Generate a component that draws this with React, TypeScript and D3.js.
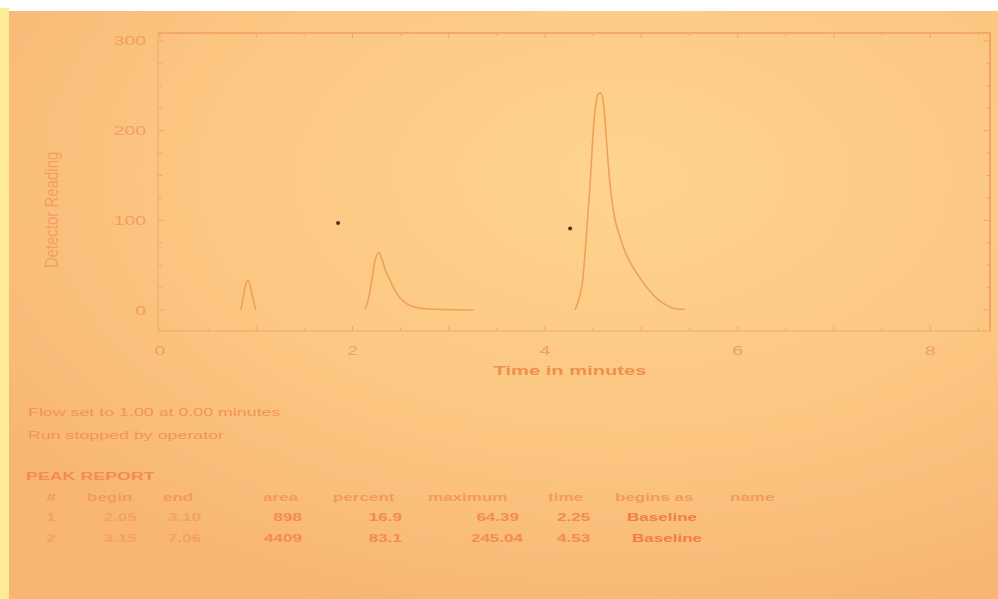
import * as d3 from 'd3';

// trace segments: [time in minutes, detector reading]
const peakSmall: [number, number][] = [
  [0.84, 0], [0.87, 17], [0.895, 30], [0.915, 33], [0.94, 26], [0.965, 13], [0.995, 0],
];
const peakOne: [number, number][] = [
  [2.13, 1], [2.16, 10], [2.2, 33], [2.23, 53], [2.255, 62], [2.275, 64], [2.3, 58],
  [2.34, 45], [2.39, 33], [2.44, 22], [2.49, 14], [2.55, 8], [2.6, 5], [2.7, 2],
  [2.85, 0.8], [3.05, 0.3], [3.26, 0],
];
const peakTwo: [number, number][] = [
  [4.31, 0], [4.35, 12], [4.39, 33], [4.43, 85], [4.47, 145], [4.5, 200], [4.53, 232],
  [4.555, 241], [4.575, 242], [4.6, 235], [4.62, 214], [4.64, 185], [4.66, 156],
  [4.69, 126], [4.72, 104], [4.77, 84], [4.82, 68], [4.9, 50], [4.99, 35], [5.08, 22],
  [5.16, 13], [5.25, 6], [5.33, 2], [5.45, 0.5],
];
const specks: [number, number][] = [[1.85, 97], [4.26, 91]];

const xTickLabels = [0, 2, 4, 6, 8];
const yTickLabels = [0, 100, 200, 300];

const notes = ['Flow set to 1.00 at 0.00 minutes', 'Run stopped by operator'];
const reportTitle = 'PEAK REPORT';
const columns = ['#', 'begin', 'end', 'area', 'percent', 'maximum', 'time', 'begins as', 'name'];
const peakIds = ['1', '2'];
const peakBegin = ['2.05', '3.15'];
const peakEnd = ['3.10', '7.06'];
const peakArea = ['898', '4409'];
const peakPercent = ['16.9', '83.1'];
const peakMax = ['64.39', '245.04'];
const peakTime = ['2.25', '4.53'];
const peakBeginsAs = ['Baseline', 'Baseline'];

const W = 998;
const H = 599;
const SX = 1.55; // the photo is stretched sideways
const FONT = '"Liberation Sans", Arial, sans-serif';
const ink = '#f2995a';
const frame = '#f0a86a';

function T({ x, y, s, size = 12, anchor = 'start', weight = 400, fill = ink, sx = SX }: any) {
  return (
    <text
      transform={`translate(${x},${y}) scale(${sx},1)`}
      fontSize={size}
      fontFamily={FONT}
      fontWeight={weight}
      textAnchor={anchor}
      fill={fill}
    >
      {s}
    </text>
  );
}

export default function App() {
  const left = 158, right = 990, top = 33, bottom = 331;
  const x = d3.scaleLinear().domain([-0.02, 8.62]).range([left, right]);
  const y = d3.scaleLinear().domain([-23.4, 308.9]).range([bottom, top]);
  const line = d3
    .line<[number, number]>()
    .x((d) => x(d[0]))
    .y((d) => y(d[1]))
    .curve(d3.curveMonotoneX);

  const xMinor = d3.range(0, 8.6, 0.5);
  const yMinor = d3.range(0, 301, 25);

  // table column x positions (left of text)
  const colX = [51, 87, 163, 263, 333, 428, 548, 615, 730];
  const rowY = [521, 542];

  return (
    <div style={{ position: 'absolute', left: 0, top: 0 }}>
      <svg width={W} height={H} style={{ display: 'block' }}>
        <defs>
          <radialGradient id="paper" cx="62%" cy="28%" r="78%">
            <stop offset="0%" stopColor="#fed48e" />
            <stop offset="55%" stopColor="#fcc782" />
            <stop offset="100%" stopColor="#f8b574" />
          </radialGradient>
        </defs>
        <rect width={W} height={H} fill="#ffffff" />
        <rect x={0} y={8} width={9} height={H - 8} fill="#fdeb98" />
        <rect x={9} y={11} width={W - 9} height={H - 11} fill="url(#paper)" />

        {/* frame */}
        <rect
          x={left}
          y={top}
          width={right - left}
          height={bottom - top}
          fill="none"
          stroke={frame}
          strokeWidth={1}
        />
        <line x1={right} x2={right} y1={top} y2={bottom} stroke="#f3a060" strokeWidth={1.6} />
        <line x1={left} x2={right} y1={top} y2={top} stroke="#f3a565" strokeWidth={1.3} />

        {xMinor.map((v) => {
          const len = Number.isInteger(v) ? 5 : 3;
          return (
            <g key={'xt' + v} stroke={frame} strokeWidth={1}>
              <line x1={x(v)} x2={x(v)} y1={bottom} y2={bottom - len} />
              <line x1={x(v)} x2={x(v)} y1={top} y2={top + len} />
            </g>
          );
        })}
        {yMinor.map((v) => {
          const len = v % 100 === 0 ? 7 : 4;
          return (
            <g key={'yt' + v} stroke={frame} strokeWidth={1}>
              <line x1={left} x2={left + len} y1={y(v)} y2={y(v)} />
              <line x1={right} x2={right - len} y1={y(v)} y2={y(v)} />
            </g>
          );
        })}

        {xTickLabels.map((v) => (
          <T key={'xl' + v} x={x(v)} y={355} s={String(v)} size={12.5} anchor="middle" fill="#f29e60" />
        ))}
        {yTickLabels.map((v) => (
          <T key={'yl' + v} x={146} y={y(v) + 4.5} s={String(v)} size={12.5} anchor="end" fill="#f29e60" />
        ))}

        <T x={570} y={375} s="Time in minutes" size={13} anchor="middle" weight={600} fill="#f0904f" />
        <text
          transform={`translate(58,210) scale(1.25,1) rotate(-90)`}
          fontSize={15}
          fontFamily={FONT}
          textAnchor="middle"
          fill="#f3a062"
        >
          Detector Reading
        </text>

        {/* trace */}
        {[peakSmall, peakOne, peakTwo].map((seg, i) => (
          <path key={'p' + i} d={line(seg) || ''} fill="none" stroke="#f0a058" strokeWidth={1.6} />
        ))}
        {specks.map((d, i) => (
          <circle key={'s' + i} cx={x(d[0])} cy={y(d[1])} r={2} fill="#5a3020" />
        ))}

        {/* run notes */}
        {notes.map((n, i) => (
          <T key={'n' + i} x={28} y={416 + i * 23} s={n} size={11.5} fill="#f39355" />
        ))}
        <T x={26} y={480} s={reportTitle} size={11.5} weight={600} fill="#f28d50" />

        {columns.map((c, i) => (
          <T key={'c' + i} x={colX[i]} y={501} s={c} size={11} weight={600} fill="#f59a5c" anchor={i === 0 ? 'middle' : 'start'} />
        ))}

        {peakIds.map((id, r) => (
          <g key={'r' + r}>
            <T x={51} y={rowY[r]} s={id} size={11} weight={600} fill="#f5a065" anchor="middle" />
            <T x={137} y={rowY[r]} s={peakBegin[r]} size={11} weight={600} fill="#f5a065" anchor="end" />
            <T x={168} y={rowY[r]} s={peakEnd[r]} size={11} weight={600} fill="#f5a065" />
            <T x={302} y={rowY[r]} s={peakArea[r]} size={11} weight={600} fill="#f28c50" anchor="end" />
            <T x={402} y={rowY[r]} s={peakPercent[r]} size={11} weight={600} fill="#f28c50" anchor="end" />
            <T x={519 + r * 4} y={rowY[r]} s={peakMax[r]} size={11} weight={600} fill="#f28c50" anchor="end" />
            <T x={557} y={rowY[r]} s={peakTime[r]} size={11} weight={600} fill="#f28c50" />
            <T x={627 + r * 5} y={rowY[r]} s={peakBeginsAs[r]} size={11} weight={700} fill="#f0803f" />
          </g>
        ))}
      </svg>
    </div>
  );
}
